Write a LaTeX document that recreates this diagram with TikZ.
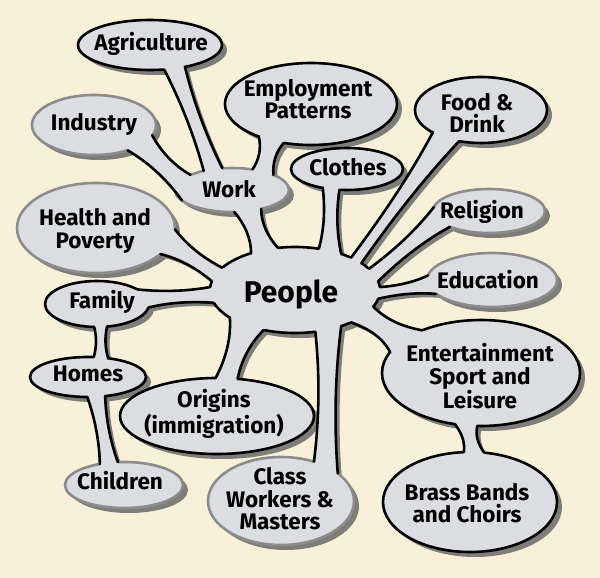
\documentclass[tikz,border=0pt]{standalone}
\usepackage{fontspec}
\setmainfont{Fira Sans}
\usetikzlibrary{shapes.geometric,calc}
\pgfdeclarelayer{bgl}\pgfdeclarelayer{shad}\pgfdeclarelayer{ell}\pgfdeclarelayer{cfill}
\pgfsetlayers{bgl,shad,ell,cfill,main}
\definecolor{cream}{RGB}{248,240,217}
\definecolor{bubfill}{RGB}{219,221,224}
\definecolor{shadc}{RGB}{125,125,122}
\definecolor{rimgray}{RGB}{140,140,140}
\tikzset{
 bubble/.style={ellipse, fill=bubfill, line width=2.6pt, inner sep=0pt, outer sep=0pt},
 blackrim/.style={draw=black},
 grayrim/.style={draw=rimgray},
 cline/.style={line width=2.6pt, line cap=round, black},
 lbl/.style={font=\fontsize{22.5}{22.5}\selectfont\bfseries, align=center, inner sep=0pt},
 biglbl/.style={font=\fontsize{30}{32}\selectfont\bfseries, inner sep=0pt},
}
\newcommand\pinchval{0.4}
\newcommand\mybubble[6]{%
 \begin{pgfonlayer}{shad}
  \fill[shadc] (#2+5,#3+5) ellipse [x radius=#4, y radius=#5];
 \end{pgfonlayer}
 \begin{pgfonlayer}{ell}
  \node[bubble,#6,minimum width=#4*2pt,minimum height=#5*2pt] (#1) at (#2,#3) {};
 \end{pgfonlayer}}
\newcommand\myspoke[6]{%
 \path (#1.#2) coordinate (sA1) (#1.#3) coordinate (sA2) (#4.#5) coordinate (sB1) (#4.#6) coordinate (sB2);
 \path ($(sA1)!0.5!(sA2)$) coordinate (sMA) ($(sB1)!0.5!(sB2)$) coordinate (sMB);
 \path ($(sA1)!0.33!(sB1)$) coordinate (sP1) ($(sA1)!0.67!(sB1)$) coordinate (sP2)
       ($(sA2)!0.33!(sB2)$) coordinate (sR1) ($(sA2)!0.67!(sB2)$) coordinate (sR2)
       ($(sMA)!0.33!(sMB)$) coordinate (sX1) ($(sMA)!0.67!(sMB)$) coordinate (sX2);
 \path ($(sP1)!\pinchval!(sX1)$) coordinate (sC1) ($(sP2)!\pinchval!(sX2)$) coordinate (sC2)
       ($(sR1)!\pinchval!(sX1)$) coordinate (sD1) ($(sR2)!\pinchval!(sX2)$) coordinate (sD2);
 \begin{pgfonlayer}{shad}
  \fill[shadc, transform canvas={shift={(4pt,-4pt)}}] (sA1) .. controls (sC1) and (sC2) .. (sB1) -- (#4.center) -- (sB2) .. controls (sD2) and (sD1) .. (sA2) -- (#1.center) -- cycle;
 \end{pgfonlayer}
 \begin{pgfonlayer}{cfill}
  \fill[bubfill] (sA1) .. controls (sC1) and (sC2) .. (sB1) -- (#4.center) -- (sB2) .. controls (sD2) and (sD1) .. (sA2) -- (#1.center) -- cycle;
 \end{pgfonlayer}
 \draw[cline] (sA1) .. controls (sC1) and (sC2) .. (sB1);
 \draw[cline] (sA2) .. controls (sD1) and (sD2) .. (sB2);}
\begin{document}
\begin{tikzpicture}[x=1pt,y=-1pt]
\useasboundingbox (0,0) rectangle (600,578);
\begin{pgfonlayer}{bgl}
 \fill[cream] (0,0) rectangle (600,578);
\end{pgfonlayer}
% bubbles
\mybubble{agri}{150}{45}{72}{25}{blackrim}
\mybubble{ind}{94}{125}{62}{30}{grayrim}
\mybubble{emp}{311}{104}{86}{41}{blackrim}
\mybubble{work}{232}{190}{57}{22}{grayrim}
\mybubble{clothes}{347}{169}{56}{21}{blackrim}
\mybubble{food}{481}{110}{66}{33}{blackrim}
\mybubble{health}{96}{228}{79}{45}{grayrim}
\mybubble{religion}{489}{211}{56}{22}{grayrim}
\mybubble{educ}{492}{280}{65}{27}{grayrim}
\mybubble{people}{295}{290}{85}{43}{blackrim}
\mybubble{family}{97}{304}{52}{23}{blackrim}
\mybubble{homes}{88}{377}{58}{20}{blackrim}
\mybubble{origins}{217}{416}{97}{38}{blackrim}
\mybubble{children}{124}{485}{59}{23}{grayrim}
\mybubble{class}{281}{501}{73}{44}{grayrim}
\mybubble{ent}{481}{373}{99}{53}{blackrim}
\mybubble{brass}{470}{502}{87}{50}{blackrim}
% connectors
\myspoke{work}{146}{114}{agri}{-60}{-32}
\myspoke{work}{160}{192}{ind}{-10}{-37}
\myspoke{work}{45}{20}{emp}{-148}{-125}
\myspoke{people}{140}{112}{work}{-84}{-33}
\myspoke{people}{60}{38}{clothes}{-142}{-110}
\myspoke{people}{30}{22}{food}{-155}{-125}
\myspoke{people}{16}{6}{religion}{176}{-158}
\myspoke{people}{2}{-6}{educ}{176}{-166}
\myspoke{people}{-12}{-30}{ent}{144}{167}
\myspoke{people}{-38}{-64}{class}{26}{50}
\myspoke{people}{-157}{-128}{origins}{92}{61}
\myspoke{people}{163}{174}{health}{-1}{-22}
\myspoke{people}{178}{-171}{family}{20}{-4}
\myspoke{family}{-97}{-66}{homes}{74}{43}
\myspoke{homes}{-92}{-48}{children}{139}{105}
\myspoke{ent}{-117}{-94}{brass}{97}{74}
% labels
\node[lbl] (t-agri) at (151,44) {Agriculture};
\node[lbl] (t-ind) at (94,124) {Industry};
\node[lbl] (t-emp) at (308,99) {Employment\\Patterns};
\node[lbl] (t-work) at (229,189) {Work};
\node[lbl] (t-clothes) at (348,167) {Clothes};
\node[lbl] (t-food) at (477,113) {Food \&\\Drink};
\node[lbl] (t-health) at (95,231) {Health and\\Poverty};
\node[lbl] (t-religion) at (482,212) {Religion};
\node[lbl] (t-educ) at (488,280) {Education};
\node[biglbl] (t-people) at (291,294) {People};
\node[lbl] (t-family) at (102,302) {Family};
\node[lbl] (t-homes) at (88,374) {Homes};
\node[lbl] (t-origins) at (214,414) {Origins\\(immigration)};
\node[lbl] (t-children) at (120,481) {Children};
\node[lbl] (t-class) at (280,499) {Class\\Workers \&\\Masters};
\node[lbl] (t-ent) at (480,376) {Entertainment\\Sport and\\Leisure};
\node[lbl] (t-brass) at (467,503) {Brass Bands\\and Choirs};
\end{tikzpicture}
\end{document}
